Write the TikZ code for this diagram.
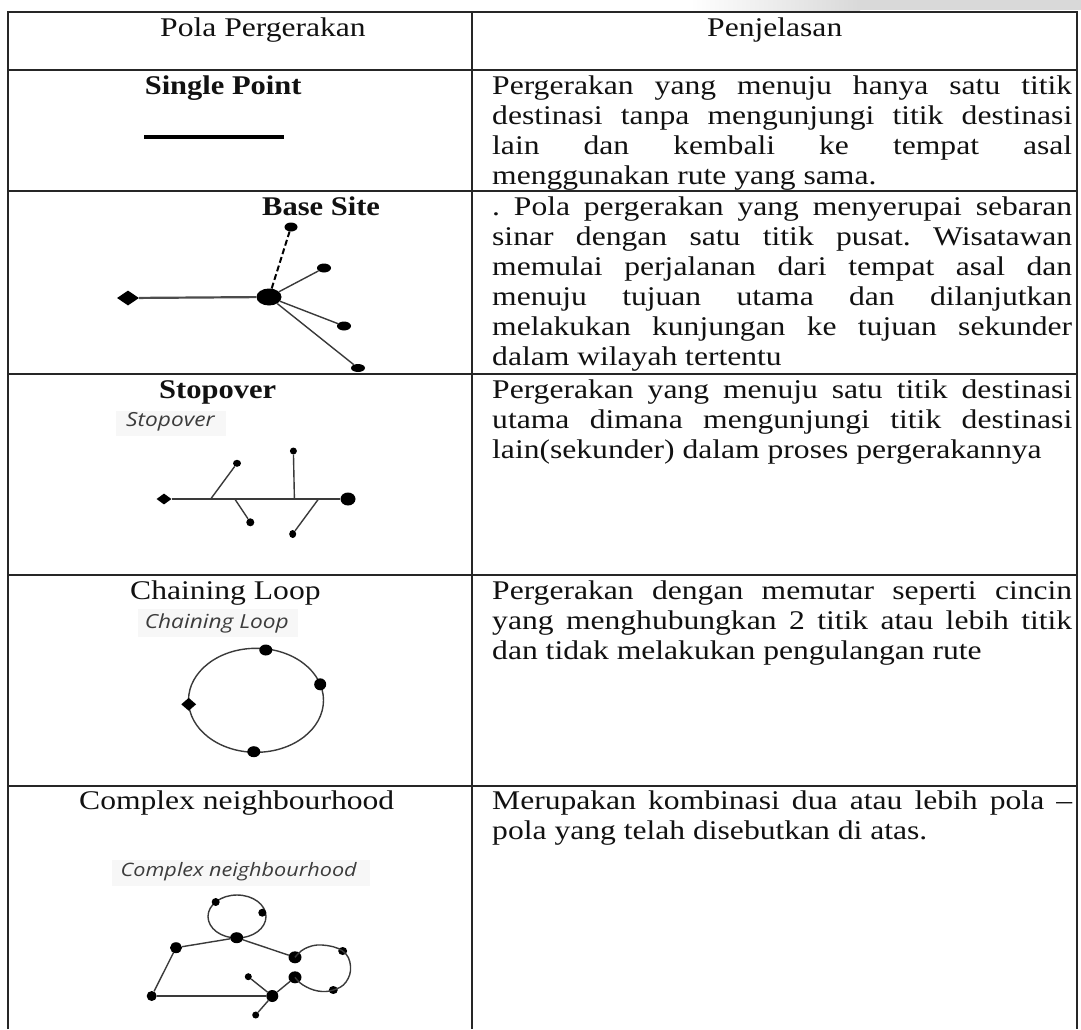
\documentclass[tikz,border=0pt]{standalone}
\usepackage{fontspec}
\setmainfont{Liberation Serif}[FakeStretch=1.17]
\newfontfamily\heavyserif{Liberation Serif Bold}[FakeStretch=1.13]
\newfontfamily\lblfont{Open Sans}[FakeStretch=1.17]
\usetikzlibrary{shapes.geometric}
\newcommand{\jline}[1]{\makebox[580pt][s]{#1}}
\newcommand{\desccell}[1]{\parbox[t]{580pt}{\raggedright\frenchspacing\spaceskip=0pt\xspaceskip=0pt #1}}
\definecolor{ink}{HTML}{111111}
\definecolor{edgegray}{HTML}{3A3A3A}
\definecolor{lblgray}{HTML}{3C3C3C}
\begin{document}
\begin{tikzpicture}[x=1pt,y=-1pt,
  rule/.style={line width=1.8pt, draw=black!85},
  ttl/.style={anchor=base west, inner sep=0pt, font=\fontsize{27}{30}\selectfont, text=ink},
  boldttl/.style={ttl, font=\heavyserif\fontsize{27}{30}\selectfont},
  desc/.style={anchor=base west, inner sep=0pt, font=\fontsize{27}{30}\selectfont, text=ink},
  lbl/.style={anchor=base west, inner sep=0pt, font=\lblfont\itshape\fontsize{19.4}{22}\selectfont, text=lblgray},
  link/.style={draw=edgegray, line width=1.4pt},
  blob/.style={ellipse, fill=black, inner sep=0pt},
  diam/.style={diamond, fill=black, inner sep=0pt},
  lblbg/.style={fill=black!3, draw=none},
]
\useasboundingbox (0,0) rectangle (1081,1029);
\fill[white] (0,0) rectangle (1081,1029);
% top shadow band
\shade[left color=white, right color=black!15] (690,0) rectangle (860,10);
\fill[black!15] (860,0) rectangle (1081,10);

% table rules
\draw[rule] (8,1029) -- (8,12) -- (1077,12) -- (1077,1029);
\draw[rule] (471.7,12) -- (471.7,1029);
\foreach \yy in {70,191,374,575,786} {\draw[rule] (8,\yy) -- (1077,\yy);}

% header
\node[ttl] (hL) at (160,36) {Pola Pergerakan};
\node[ttl] (hR) at (707,36) {Penjelasan};

% left titles
\node[boldttl] (t1) at (144.6,94) {Single Point};
\node[boldttl] (t2) at (262,215) {Base Site};
\node[boldttl] (t3) at (159,398) {Stopover};
\node[ttl] (t4) at (130,599) {Chaining Loop};
\node[ttl] (t5) at (79,809) {Complex neighbourhood};

% right descriptions
\node[desc] (d1) at (492,94) {\desccell{\jline{Pergerakan yang menuju hanya satu titik}\\\jline{destinasi tanpa mengunjungi titik destinasi}\\\jline{lain dan kembali ke tempat asal}\\menggunakan rute yang sama.}};
\node[desc] (d2) at (492,215) {\desccell{\jline{. Pola pergerakan yang menyerupai sebaran}\\\jline{sinar dengan satu titik pusat. Wisatawan}\\\jline{memulai perjalanan dari tempat asal dan}\\\jline{menuju tujuan utama dan dilanjutkan}\\\jline{melakukan kunjungan ke tujuan sekunder}\\dalam wilayah tertentu}};
\node[desc] (d3) at (492,398) {\desccell{\jline{Pergerakan yang menuju satu titik destinasi}\\\jline{utama dimana mengunjungi titik destinasi}\\lain(sekunder) dalam proses pergerakannya}};
\node[desc] (d4) at (492,599) {\desccell{\jline{Pergerakan dengan memutar seperti cincin}\\\jline{yang menghubungkan 2 titik atau lebih titik}\\dan tidak melakukan pengulangan rute}};
\node[desc] (d5) at (492,809) {\desccell{\jline{Merupakan kombinasi dua atau lebih pola --}\\pola yang telah disebutkan di atas.}};

% ---- Single point figure
\coordinate (spA) at (144,137);
\coordinate (spB) at (284,137);
\draw[line width=4.5pt, black] (spA) -- (spB);

% ---- Base site figure
\node[diam, minimum width=22pt, minimum height=15pt] (bL) at (128,298) {};
\node[blob, minimum width=25pt, minimum height=17pt] (bH) at (269,297) {};
\node[blob, minimum width=13pt, minimum height=9pt] (bT) at (291,227) {};
\node[blob, minimum width=14pt, minimum height=9pt] (bUR) at (324,268) {};
\node[blob, minimum width=14pt, minimum height=9pt] (bLR) at (344,326) {};
\node[blob, minimum width=14pt, minimum height=8pt] (bB) at (358,368) {};
\draw[draw=black!70, line width=2.2pt] (bL) -- (bH);
\draw[draw=black, line width=2pt, dash pattern=on 6pt off 3pt] (bH) -- (bT);
\draw[link] (bH) -- (bUR);
\draw[link] (bH) -- (bLR);
\draw[link] (bH) -- (bB);

% ---- Stopover figure
\fill[lblbg] (116,411) rectangle (226,436);
\node[lbl] (l3) at (126,426) {Stopover};
\node[diam, minimum width=15pt, minimum height=11pt] (sL) at (164,499) {};
\node[blob, minimum width=15pt, minimum height=13pt] (sR) at (348,499) {};
\node[blob, minimum width=8pt, minimum height=7pt] (s1n) at (237,463.3) {};
\node[blob, minimum width=7pt, minimum height=7pt] (s2n) at (293.4,451) {};
\node[blob, minimum width=8pt, minimum height=8pt] (s3n) at (250.3,522.3) {};
\node[blob, minimum width=7pt, minimum height=8pt] (s4n) at (292.7,534) {};
\coordinate (s1) at (210.7,499);
\coordinate (s2) at (294.4,499);
\coordinate (s3) at (234.8,499);
\coordinate (s4) at (318.5,499);
\draw[link] (sL) -- (sR);
\draw[link] (s1) -- (s1n);
\draw[link] (s2) -- (s2n);
\draw[link] (s3) -- (s3n);
\draw[link] (s4) -- (s4n);

% ---- Chaining loop figure
\fill[lblbg] (138,609) rectangle (298,637);
\node[lbl] (l4) at (144.6,628) {Chaining Loop};
\coordinate (cC) at (256,700.3);
\draw[link] (cC) ellipse [x radius=67.5, y radius=52];
\node[blob, minimum width=13pt, minimum height=11pt] (cT) at (265.8,650) {};
\node[blob, minimum width=12pt, minimum height=12pt] (cR) at (320.2,684.3) {};
\node[diam, minimum width=15pt, minimum height=13pt] (cL) at (188.7,704.3) {};
\node[blob, minimum width=13pt, minimum height=11pt] (cB) at (253.8,751.7) {};

% ---- Complex neighbourhood figure
\fill[lblbg] (112,860) rectangle (370,886);
\node[lbl, font=\lblfont\itshape\fontsize{18.5}{21}\selectfont] (l5) at (120.5,876) {Complex neighbourhood};
\coordinate (kC) at (237,916.5);
\draw[link] (kC) ellipse [x radius=29, y radius=21.5];
\node[blob, minimum width=8pt, minimum height=8pt] (kA) at (215.7,902) {};
\node[blob, minimum width=8pt, minimum height=8pt] (kB) at (262.3,912.7) {};
\node[blob, minimum width=13pt, minimum height=11pt] (kH) at (236.7,937.7) {};
\node[blob, minimum width=12pt, minimum height=11pt] (kL) at (176,947.7) {};
\node[blob, minimum width=13pt, minimum height=12pt] (kR1) at (295,957.3) {};
\node[blob, minimum width=9pt, minimum height=8pt] (kR2) at (342.7,951) {};
\node[blob, minimum width=9pt, minimum height=8pt] (kR3) at (333.3,990) {};
\node[blob, minimum width=13pt, minimum height=12pt] (kR4) at (295,977.3) {};
\node[blob, minimum width=10pt, minimum height=10pt] (kBL) at (151.7,996) {};
\node[blob, minimum width=12pt, minimum height=12pt] (kBH) at (272.3,996) {};
\node[blob, minimum width=7pt, minimum height=7pt] (kS1) at (248.3,976.7) {};
\node[blob, minimum width=7pt, minimum height=7pt] (kS2) at (255.7,1015) {};
\draw[link] plot[smooth, tension=0.7] coordinates {(kR1.center) (305,948.5) (322,945) (kR2.center) (350.5,966) (346,982) (kR3.center) (318,991) (303,985) (kR4.center)};
\draw[link] (kH) -- (kL);
\draw[link] (kH) -- (kR1);
\draw[link] (kL) -- (kBL);
\draw[link] (kBL) -- (kBH);
\draw[link] (kBH) -- (kS1);
\draw[link] (kBH) -- (kR4);
\draw[link] (kBH) -- (kS2);
\end{tikzpicture}
\end{document}
